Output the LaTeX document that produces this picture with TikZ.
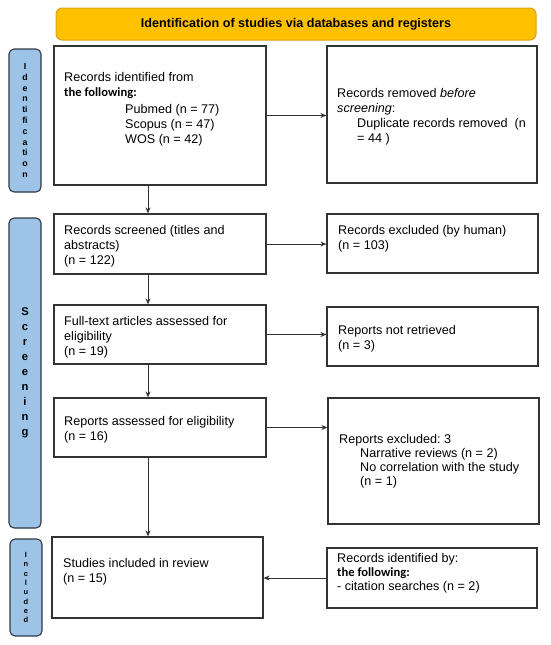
\documentclass[tikz,border=0pt]{standalone}
\usepackage{fontspec}
\setmainfont{Liberation Sans}
\newfontfamily\carlfont{Carlito}
\usetikzlibrary{arrows.meta}
\frenchspacing
\definecolor{gold}{HTML}{FFC000}
\definecolor{goldline}{HTML}{D9A21A}
\definecolor{sideblue}{HTML}{9DC3E6}
\definecolor{sideline}{HTML}{2E3A46}
\definecolor{boxline}{HTML}{333333}
\begin{document}
\begin{tikzpicture}[x=1pt,y=-1pt,
  box/.style={draw=boxline, line width=1.2pt, fill=white, inner sep=0pt},
  txt/.style={anchor=north west, inner sep=0pt, align=left, font=\fontsize{12.6}{15}\selectfont, text=black},
  side/.style={draw=sideline, fill=sideblue, line width=1.1pt, rounded corners=5pt, minimum width=32pt, inner sep=0pt, align=center, text=black},
  arr/.style={draw=boxline, line width=1pt, -{Stealth[length=6pt,width=5pt]}}]
\useasboundingbox (0,0) rectangle (550,645);
% banner
\node[draw=goldline, fill=gold, line width=1pt, rounded corners=6pt, minimum width=480pt, minimum height=32pt, inner sep=0pt,
  font=\bfseries\fontsize{12.6}{15}\selectfont] (ban) at (296,24) {Identification of studies via databases and registers};
% side labels
\node[side, minimum height=143pt, font=\bfseries\fontsize{8.8}{10.8}\selectfont] (s1) at (25,120.5)
  {I\\d\\e\\n\\ti\\fi\\c\\a\\ti\\o\\n};
\node[side, minimum height=310pt, font=\bfseries\fontsize{11.2}{15}\selectfont] (s2) at (25,373)
  {S\\c\\r\\e\\e\\n\\i\\n\\g};
\node[side, minimum height=97pt, font=\bfseries\fontsize{7.5}{9.3}\selectfont] (s3) at (26,587.5)
  {I\\n\\c\\l\\u\\d\\e\\d};
% boxes
\node[box, minimum width=212pt, minimum height=139pt] (b1) at (160,115.5) {};
\node[box, minimum width=210pt, minimum height=137pt] (b2) at (432,114.5) {};
\node[box, minimum width=212pt, minimum height=60pt] (b3) at (160,244) {};
\node[box, minimum width=211pt, minimum height=59pt] (b4) at (432.5,243.5) {};
\node[box, minimum width=212pt, minimum height=59pt] (b5) at (160,334.5) {};
\node[box, minimum width=211pt, minimum height=59pt] (b6) at (432.5,336.5) {};
\node[box, minimum width=212pt, minimum height=59pt] (b7) at (160,427.5) {};
\node[box, minimum width=211pt, minimum height=126pt] (b8) at (433.5,461) {};
\node[box, minimum width=211pt, minimum height=81pt] (b9) at (157.5,577.5) {};
\node[box, minimum width=210pt, minimum height=60pt] (b10) at (432,578) {};
% texts
\node[txt] (t1) at (64,72.6) {Records identified from\\{\carlfont\bfseries the following:}\\[2pt]%
  \hspace*{61pt}Pubmed (n = 77)\\\hspace*{61pt}Scopus (n = 47)\\\hspace*{61pt}WOS (n = 42)};
\node[txt, font=\fontsize{12.6}{14.7}\selectfont] (t2) at (337,88.6) {Records removed \textit{before}\\\textit{screening}:\\%
  \hspace*{20pt}Duplicate records removed\ \ (n\\\hspace*{20pt}= 44 )};
\node[txt] (t3) at (64,225.6) {Records screened (titles and\\abstracts)\\(n = 122)};
\node[txt] (t4) at (338,225.6) {Records excluded (by human)\\(n = 103)};
\node[txt] (t5) at (64,316.4) {Full-text articles assessed for\\eligibility\\(n = 19)};
\node[txt] (t6) at (338,325.4) {Reports not retrieved\\(n = 3)};
\node[txt] (t7) at (64,416.4) {Reports assessed for eligibility\\(n = 16)};
\node[txt, font=\fontsize{12.6}{14}\selectfont] (t8) at (339,434.4) {Reports excluded: 3\\%
  \hspace*{21pt}Narrative reviews (n = 2)\\\hspace*{21pt}No correlation with the study\\\hspace*{21pt}(n = 1)};
\node[txt] (t9) at (63,558.4) {Studies included in review\\(n = 15)};
\node[txt, font=\fontsize{12.6}{14}\selectfont] (t10) at (337,553.4) {Records identified by:\\{\carlfont\bfseries the following:}\\- citation searches (n = 2)};
% connectors
\coordinate (vx) at (148,0);
\draw[arr] (vx |- b1.south) -- (vx |- b3.north);
\draw[arr] (vx |- b3.south) -- (vx |- b5.north);
\draw[arr] (vx |- b5.south) -- (vx |- b7.north);
\draw[arr] (vx |- b7.south) -- (vx |- b9.north);
\draw[arr] (b1.east) -- (b1.east -| b2.west);
\draw[arr] (b3.east) -- (b3.east -| b4.west);
\draw[arr] (b5.east) -- (b5.east -| b6.west);
\draw[arr] (b7.east) -- (b7.east -| b8.west);
\draw[arr] (b10.west) -- (b10.west -| b9.east);
\end{tikzpicture}
\end{document}
